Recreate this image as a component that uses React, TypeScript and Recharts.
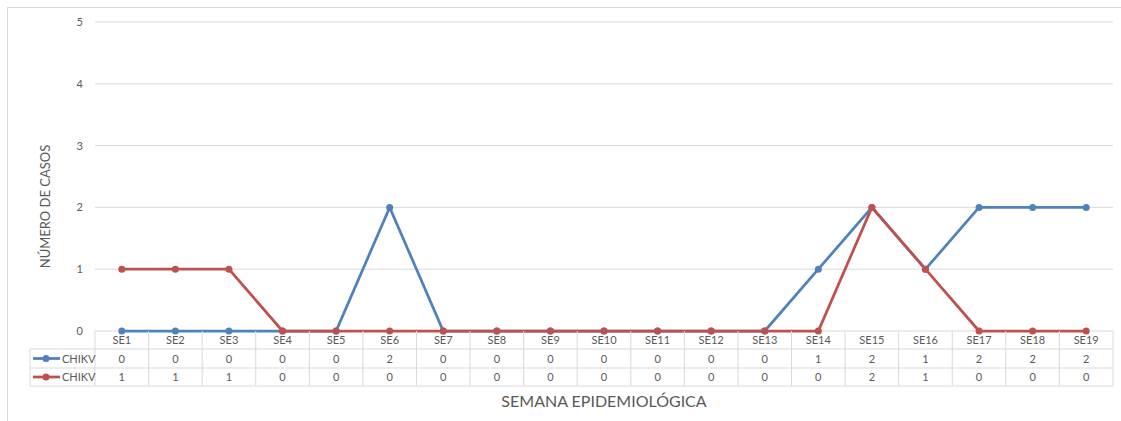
import React from 'react';
import { LineChart, Line, XAxis, YAxis, CartesianGrid } from 'recharts';

const weeks = ['SE1', 'SE2', 'SE3', 'SE4', 'SE5', 'SE6', 'SE7', 'SE8', 'SE9', 'SE10', 'SE11', 'SE12', 'SE13', 'SE14', 'SE15', 'SE16', 'SE17', 'SE18', 'SE19'];
const chikvBlue = [0, 0, 0, 0, 0, 2, 0, 0, 0, 0, 0, 0, 0, 1, 2, 1, 2, 2, 2];
const chikvRed = [1, 1, 1, 0, 0, 0, 0, 0, 0, 0, 0, 0, 0, 0, 2, 1, 0, 0, 0];
const yTicks = [0, 1, 2, 3, 4, 5];

const data = weeks.map((w, i) => ({ week: w, blue: chikvBlue[i], red: chikvRed[i] }));

const W = 1121;
const H = 421;
const margin = { top: 22, right: 8, left: 0, bottom: 0 };
const Y_AXIS_W = 95;
const X_AXIS_H = 90;
const plotLeft = margin.left + Y_AXIS_W;
const plotRight = W - margin.right;
const plotBottom = H - margin.bottom - X_AXIS_H;
const bw = (plotRight - plotLeft) / weeks.length;

const BLUE = '#4F81BD';
const RED = '#C0504D';
const GRID = '#d9d9d9';
const TXT = '#595959';
const FONT = 'Lato, "Open Sans", sans-serif';

const row1 = plotBottom + 18;
const row2 = plotBottom + 37;
const row3 = plotBottom + 55;
const legendLeft = 30;

const TableTick = (props: any) => {
  const { x, payload } = props;
  const i = payload.index;
  const l = x - bw / 2;
  const r = x + bw / 2;
  const line = { stroke: GRID, strokeWidth: 1 };
  return (
    <g fontFamily={FONT} fontSize={11} fill={TXT}>
      <line x1={l} y1={plotBottom} x2={l} y2={row3} {...line} />
      {i === weeks.length - 1 && <line x1={r} y1={plotBottom} x2={r} y2={row3} {...line} />}
      <line x1={l} y1={row1} x2={r} y2={row1} {...line} />
      <line x1={l} y1={row2} x2={r} y2={row2} {...line} />
      <line x1={l} y1={row3} x2={r} y2={row3} {...line} />
      <text x={x} y={(plotBottom + row1) / 2 + 4} textAnchor="middle">{payload.value}</text>
      <text x={x} y={(row1 + row2) / 2 + 4} textAnchor="middle">{chikvBlue[i]}</text>
      <text x={x} y={(row2 + row3) / 2 + 4} textAnchor="middle">{chikvRed[i]}</text>
      {i === 0 && (
        <g>
          <line x1={legendLeft} y1={row1} x2={l} y2={row1} {...line} />
          <line x1={legendLeft} y1={row2} x2={l} y2={row2} {...line} />
          <line x1={legendLeft} y1={row3} x2={l} y2={row3} {...line} />
          <line x1={legendLeft} y1={row1} x2={legendLeft} y2={row3} {...line} />
          {[{ c: BLUE, y: (row1 + row2) / 2 }, { c: RED, y: (row2 + row3) / 2 }].map((s, k) => (
            <g key={k}>
              <line x1={legendLeft + 3} y1={s.y} x2={legendLeft + 30} y2={s.y} stroke={s.c} strokeWidth={2.75} />
              <circle cx={legendLeft + 16} cy={s.y} r={3.5} fill={s.c} />
              <text x={legendLeft + 32} y={s.y + 4} textAnchor="start">CHIKV</text>
            </g>
          ))}
        </g>
      )}
    </g>
  );
};

export default function App() {
  return (
    <div style={{ position: 'absolute', left: 0, top: 0, width: W, height: H, background: '#fff', overflow: 'hidden' }}>
      <div style={{ position: 'absolute', left: 7, top: 7, width: W, height: H, borderLeft: `1px solid ${GRID}`, borderTop: `1px solid ${GRID}` }} />
      <div style={{ position: 'absolute', left: 0, top: 0 }}>
        <LineChart width={W} height={H} data={data} margin={margin}>
          <CartesianGrid vertical={false} stroke={GRID} strokeWidth={1} />
          <XAxis
            dataKey="week"
            height={X_AXIS_H}
            axisLine={false}
            tickLine={false}
            interval={0}
            padding={{ left: bw / 2, right: bw / 2 }}
            tick={<TableTick />}
            label={{ value: 'SEMANA EPIDEMIOLÓGICA', position: 'insideBottom', offset: 14, fill: TXT, fontSize: 16, fontFamily: FONT }}
          />
          <YAxis
            width={Y_AXIS_W}
            domain={[0, 5]}
            ticks={yTicks}
            axisLine={false}
            tickLine={false}
            tickMargin={6}
            tick={{ fill: TXT, fontSize: 11, fontFamily: FONT }}
            label={{ value: 'NÚMERO DE CASOS', angle: -90, position: 'center', dx: -2, dy: 30, fill: TXT, fontSize: 13, fontFamily: FONT }}
          />
          <Line dataKey="blue" stroke={BLUE} strokeWidth={2.75} dot={{ r: 3.5, fill: BLUE, stroke: BLUE, strokeWidth: 0 }} isAnimationActive={false} />
          <Line dataKey="red" stroke={RED} strokeWidth={2.75} dot={{ r: 3.5, fill: RED, stroke: RED, strokeWidth: 0 }} isAnimationActive={false} />
        </LineChart>
      </div>
    </div>
  );
}
